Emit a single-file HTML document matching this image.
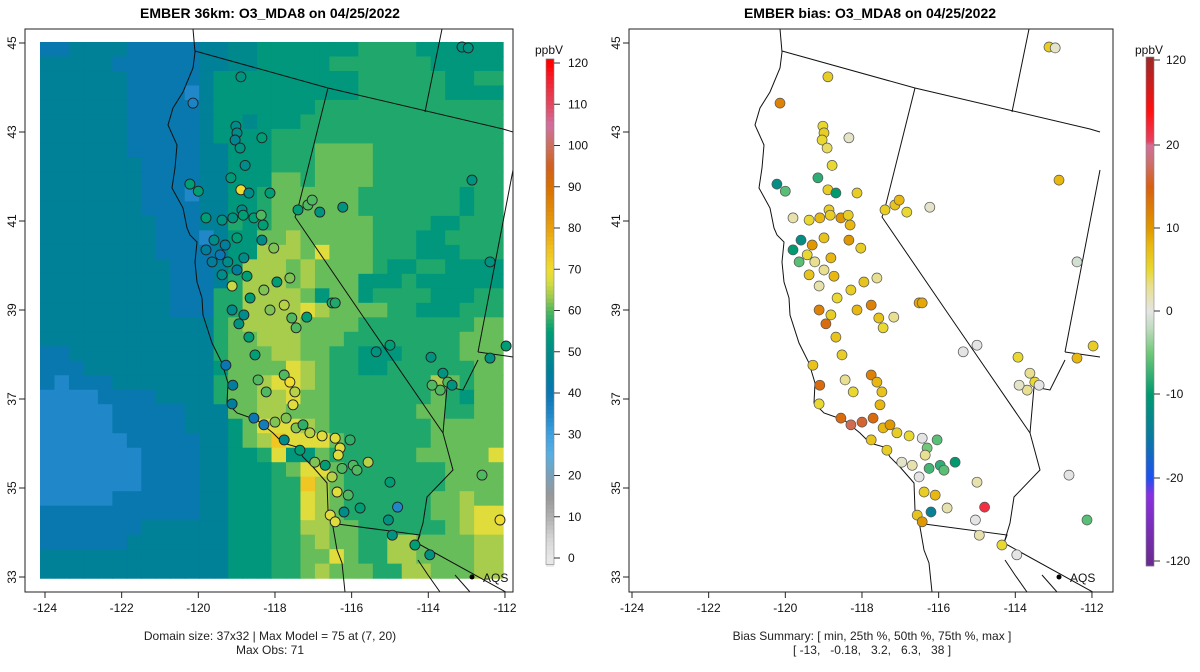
<!DOCTYPE html>
<html><head><meta charset="utf-8"><style>
html,body{margin:0;padding:0;background:#fff;}
svg{display:block;font-family:"Liberation Sans",Arial,sans-serif;}
</style></head><body>
<svg id="chart" width="1200" height="672" viewBox="0 0 1200 672" xmlns="http://www.w3.org/2000/svg">
<defs>
<clipPath id="clipL"><rect x="25" y="29" width="488" height="563"/></clipPath>
<clipPath id="clipR"><rect x="629" y="29" width="484" height="563"/></clipPath>
</defs>
<g id="root"></g>
</svg>
<script>
// ---------- data ----------
const xTicks = [-124,-122,-120,-118,-116,-114,-112];
const yTicks = [33,35,37,39,41,43,45];
const obsBarTicks = [0,10,20,30,40,50,60,70,80,90,100,110,120];
const biasBarTicks = [-120,-20,-10,0,10,20,120];
// model grid (32 cols x 37 rows), each char is a concentration level
const levelChars = ["A","B","C","D","E","F","G","H","I","J","K"];
const levelValues = [35,41,46,49,53,57,61,64,68,71,74];
const gridRows = [
"BBCCCCBBBBBCCDDEEEEEEEFFFFEEEEEE",
"CCCCCBBBBBBCCDDEEEEEFFFFFFFEEEEE",
"CCCCCCBBBBBCEEEEEEEEEEFFFFFFEEFF",
"CCCCCCBBBBACEEEEEEEEEEFFFFFFEEEE",
"CCCCCCBBBBBCEEEEEEEFFFFFFFFFFFFF",
"CCCCCCBBBBBCEEDEEEFFFFFFFFFFFFFF",
"CCCCCCBBBBBCEEEEFFFFFFFFFFFFFFFF",
"CCCCCCBBBBBCCEEEFFFGGGGFFFFFFFFF",
"CCCCCCCBBBBCCEEEFFFGGGGFFFFFFFFF",
"CCCCCCCBBBBCCEEEGGFGGGGFFFFFFFFF",
"CCCCCCCBBBACCEEFGGGGGGFFFFFFFEFF",
"CCCCCCCBBBBCCEEFGGGGGGFFFFFFFEFF",
"CCCCCCCCBBBCCFEFGGGGGGGFFFFEEFFF",
"CCCCCCCCBBBACEEGGHGGGGGFFFEEFFFF",
"CCCCCCCCBBBBCEEHHHGIGGGFFFEEEFFF",
"CCCCCCCCCBBBCEHHHGHGGGGFEEFFEEEE",
"CCCCCCCCCBBBCFHHHGHGGGEEEFEEEEEE",
"CCCCCCCCCBBBFFHHHHGEGGEFFFFEEEFF",
"CCCCCCCCCBBBFFHHHHIHGGGGFFEEEFFF",
"CCCCCCCCCCCCFGHHHHGGGGFFFFFFFFGG",
"CCCCCCCCCCCCFGGHHHGGGFFFFFFFFGGG",
"BBCCCCCCCCCCFGGGHHGGFFEEEFFFFGGG",
"BBBCCCCCCCCCEGGGGIHGFFEEFFFFFFGG",
"BABBBCCCCCCCFGGHIIHGFFFFFFFHGFGG",
"AAAABBBBCCCCFGGHHIGGFFFFFFFGFEGG",
"AAAAABBBBBCCCGGHHGGGFFFFFFGGFFGG",
"AAAAABBBBBCCCEGIIIHGFFFFFFFGGGGG",
"AAAAAABBBBBCCEGHKIIIGFFFFFFGGGGG",
"AAAAAAABBBBCCEEFIEEGFFFFFFGGGGGI",
"AAAAAAABBBBCCEEEFGIIGFFFFFFFGGGG",
"AAAAAAABBBBCCEEEFFKHGFFFFFFFGGGG",
"AAAAABBBBBBCCEEEFFIHGFFFFFFGGHGG",
"BBBBBBBBBBBCCEEEFFIHGFFFFFFGGHII",
"BBBBBBBCCCCCCEEEFFHHGGFFFFFFGHII",
"BBBBBBCCCCCCCEEEFFGHGGFFHHGGGGHH",
"CCCCCCCCCCCCCEEEFFGGIGFFHHGGGGHH",
"CCCCCCCCCCCCCEEEFFGHGGGFFHHGGGHH"
];
// monitoring sites
const siteLon = [-120.14,-118.89,-113.12,-112.96,-119.02,-118.99,-119.04,-118.91,-118.34,-118.78,-119.15,-118.89,-118.68,-118.86,-120.22,-120.0,-118.13,-117.14,-117.03,-116.83,-116.23,-117.4,-112.86,-119.8,-119.38,-119.1,-118.83,-118.55,-118.31,-118.36,-118.99,-119.3,-119.59,-119.8,-119.64,-119.43,-119.23,-118.81,-119.38,-118.99,-119.12,-118.34,-118.03,-118.73,-118.29,-118.65,-117.95,-117.61,-118.13,-117.76,-117.56,-117.45,-117.17,-116.51,-116.43,-118.81,-119.12,-118.94,-118.68,-118.52,-119.28,-119.1,-118.44,-118.23,-117.76,-117.61,-117.48,-117.53,-117.71,-119.12,-118.55,-118.29,-118.0,-117.45,-117.27,-117.09,-116.77,-116.43,-116.3,-116.35,-116.04,-117.76,-117.35,-116.96,-116.69,-116.25,-115.96,-115.57,-116.51,-116.38,-115.86,-116.09,-116.56,-116.43,-116.2,-115.78,-115.0,-114.8,-115.04,-114.94,-114.35,-113.96,-113.62,-113.49,-113.69,-113.38,-113.9,-112.39,-111.97,-112.39,-112.6,-112.13,-115.0,-115.36,-113.93];
const siteLat = [43.65,44.24,44.91,44.89,43.13,42.98,42.82,42.64,42.87,42.25,41.97,41.70,41.63,41.25,41.83,41.67,41.63,41.36,41.47,41.20,41.31,41.25,41.92,41.07,41.02,41.07,41.13,41.07,40.91,41.13,40.62,40.46,40.57,40.35,40.08,40.24,40.08,40.17,39.79,39.90,39.54,40.57,40.39,39.76,39.45,39.27,39.63,39.72,39.0,39.11,38.82,38.6,38.84,39.16,39.16,38.89,39.0,38.69,38.39,37.99,37.76,37.31,37.43,37.16,37.54,37.38,37.16,36.87,36.57,36.89,36.57,36.42,36.48,36.35,36.42,36.24,36.17,36.12,35.9,35.74,36.08,36.08,35.85,35.58,35.51,35.44,35.51,35.58,35.25,34.91,35.40,34.84,34.39,34.24,34.46,34.55,35.13,34.57,34.28,33.94,33.72,33.5,37.58,37.38,37.20,37.31,37.31,37.92,38.19,40.08,35.29,34.28,38.21,38.06,37.94];
const siteObs = [36,52,52,52,50,50,48,52,55,50,54,70,50,50,55,55,55,60,60,52,52,55,52,55,52,52,55,55,55,60,55,45,50,45,45,40,50,50,50,45,66,50,62,55,62,55,55,62,62,65,60,60,55,57,57,50,50,52,55,55,40,45,60,60,60,70,65,68,62,45,40,38,62,62,58,65,68,68,68,68,58,50,55,62,55,60,60,65,65,68,60,60,68,68,50,55,55,35,52,52,55,52,52,60,60,52,60,52,55,52,60,70,55,52,52];
const siteBias = [12,6,6,1,5,6,5,4,1,5,-8,6,-10,6,-12,-6,6,7,8,5,1,6,8,2,5,8,6,10,8,6,7,10,-12,-10,-6,5,3,8,7,3,2,10,6,8,6,5,7,3,8,12,7,5,3,9,9,6,12,14,7,6,7,14,3,5,12,8,7,8,14,5,14,17,16,8,10,6,5,0,-5,3,-6,7,6,1,2,-7,-8,-10,0,6,-6,8,7,10,-14,2,2,38,0,2,5,0,3,5,3,0,1,8,6,-1,0,-6,0,0,5];

// ---------- scales ----------
const X0 = 45, PX_LON = 38.33, Y0 = 43, PX_LAT = 44.5, DX_R = 587;
function xScale(lon){ return X0 + (lon + 124) * PX_LON; }
function yScale(lat){ return Y0 + (45 - lat) * PX_LAT; }
const GX0 = 40, GY0 = 42, CW = 14.47, CH = 14.49;
function gx(c){ return GX0 + c * CW; }
function gy(r){ return GY0 + r * CH; }

function hex(c){ return [parseInt(c.slice(1,3),16),parseInt(c.slice(3,5),16),parseInt(c.slice(5,7),16)]; }
function interp(stops, v){
  if (v <= stops[0][0]) return stops[0][1];
  for (let i=1;i<stops.length;i++){
    if (v <= stops[i][0]){
      const a=stops[i-1], b=stops[i], t=(v-a[0])/(b[0]-a[0]);
      const ca=hex(a[1]), cb=hex(b[1]);
      return "rgb("+ca.map((x,k)=>Math.round(x+(cb[k]-x)*t)).join(",")+")";
    }
  }
  return stops[stops.length-1][1];
}
const obsStops = [[0,"#e8e8e8"],[5,"#d4d4d4"],[10,"#b0b0b0"],[15,"#989898"],[20,"#7aa0b8"],[25,"#5ab0e0"],[30,"#40a0e0"],[35,"#2088c8"],[40,"#0a76b4"],[45,"#007e9c"],[50,"#008c88"],[55,"#009e74"],[60,"#50b860"],[63,"#98c850"],[67,"#d8dc40"],[70,"#f0dc30"],[75,"#f0c020"],[80,"#e8a010"],[90,"#d87000"],[95,"#d06020"],[100,"#cc7060"],[105,"#d070a0"],[110,"#e04860"],[115,"#f02838"],[120,"#ff0000"]];
const biasStops = [[-120,"#6a2c90"],[-40,"#8a30e0"],[-20,"#2050f0"],[-15,"#0a7aa0"],[-10,"#009a70"],[-5,"#70c878"],[-2,"#c0dcc0"],[0,"#e4e4e4"],[3,"#e8e090"],[5,"#e8d830"],[8,"#e8b810"],[10,"#e09800"],[15,"#d86010"],[18,"#cc7070"],[20,"#d07098"],[25,"#e84060"],[60,"#ff1010"],[120,"#a02828"]];
const obsColor = v => interp(obsStops, v);
const biasColor = v => interp(biasStops, v);

const NS="http://www.w3.org/2000/svg";
const root=document.getElementById("root");
function mk(tag, attrs, parent){ const e=document.createElementNS(NS,tag); for(const k in attrs) e.setAttribute(k,attrs[k]); (parent||root).appendChild(e); return e; }

// ---------- map outlines (pixel coords, left panel) ----------
const coast = [[193,29],[195,52],[193,68],[183,92],[173,108],[168,125],[177,145],[175,168],[172,188],[183,208],[187,228],[190,235],[197,242],[195,262],[197,282],[202,298],[203,315],[212,343],[222,363],[228,383],[227,403],[237,413],[257,420],[273,433],[283,443],[297,447],[303,457],[313,467],[327,483],[328,510],[333,527],[337,550],[342,563],[345,592]];
const borders = [
 [[195,51],[328,88],[503,129],[513,132]],
 [[442,29],[425,112]],
 [[328,88],[297,212],[295,217],[362,315],[443,433]],
 [[513,170],[478,352]],
 [[478,352],[513,357]],
 [[478,360],[463,390],[447,387],[443,433],[453,470],[427,497],[423,523],[417,543]],
 [[330,523],[420,535],[417,543],[513,596]],
 [[418,560],[428,575],[440,592]],
 [[455,575],[470,592]]
];
function drawOutlines(dx, g){
  const pts = coast.map(p=>(p[0]+dx)+","+p[1]).join(" ");
  const c = mk("polyline",{points:pts,fill:"none",stroke:"#111","stroke-width":"1"},g);
  
  
  borders.forEach(b=>{
    const l = mk("polyline",{points:b.map(p=>(p[0]+dx)+","+p[1]).join(" "),fill:"none",stroke:"#111","stroke-width":"1"},g);
    
    
  });
}

// ---------- left panel ----------
const gL = mk("g",{"clip-path":"url(#clipL)"});


gridRows.forEach((row,r)=>{
  for(let c=0;c<row.length;c++){
    const v = levelValues[levelChars.indexOf(row[c])];
    const cell = mk("rect",{x:gx(c).toFixed(2),y:gy(r).toFixed(2),width:(CW+0.6).toFixed(2),height:(CH+0.6).toFixed(2),fill:obsColor(v)},gL);
    
    
  }
});
drawOutlines(0,gL);
siteLon.forEach((lon,i)=>{
  const s = mk("circle",{cx:xScale(lon).toFixed(1),cy:yScale(siteLat[i]).toFixed(1),r:5,fill:obsColor(siteObs[i]),stroke:"#222","stroke-width":"0.9"},gL);
  
  
});

// ---------- right panel ----------
const gR = mk("g",{"clip-path":"url(#clipR)"});


drawOutlines(DX_R,gR);
siteLon.forEach((lon,i)=>{
  const s = mk("circle",{cx:(xScale(lon)+DX_R).toFixed(1),cy:yScale(siteLat[i]).toFixed(1),r:5,fill:biasColor(siteBias[i]),stroke:"#555","stroke-width":"0.7"},gR);
  
  
});

// ---------- axes ----------
function axes(dx, boxX, boxW, name){
  const box = mk("rect",{x:boxX,y:29,width:boxW,height:563,fill:"none",stroke:"#222","stroke-width":"1"});
  
  
  xTicks.forEach(t=>{
    const x = xScale(t)+dx;
    const tk = mk("line",{x1:x,y1:592,x2:x,y2:598,stroke:"#222"});
    
    
    const tl = mk("text",{x:x,y:612,"font-size":"12","text-anchor":"middle",fill:"#111"});
    tl.textContent = t;
    
    
  });
  yTicks.forEach(t=>{
    const y = yScale(t);
    const tk = mk("line",{x1:boxX,y1:y,x2:boxX-6,y2:y,stroke:"#222"});
    
    
    const tl = mk("text",{x:0,y:0,"font-size":"12","text-anchor":"middle",fill:"#111",transform:"translate("+(boxX-9)+","+y+") rotate(-90)"});
    tl.textContent = t;
    
    
  });
  const aq = mk("circle",{cx:472+dx,cy:577,r:2.5,fill:"#000"});
  
  
  const at = mk("text",{x:483+dx,y:582,"font-size":"12",fill:"#111"});
  at.textContent="AQS";
  
  
}
axes(0,25,488,'model-map');
axes(DX_R,629,484,'bias-map');

// ---------- colorbars ----------
function obsBarY(v){ return 558 - v*4.125; }
const obsBar = mk("g",{});


for(let v=-2; v<121; v+=1){
  mk("rect",{x:546,y:obsBarY(v+1).toFixed(2),width:8,height:4.6,fill:obsColor(v+0.5)},obsBar);
}
mk("rect",{x:546,y:obsBarY(121),width:8,height:obsBarY(-1.6)-obsBarY(121),fill:"none",stroke:"#888","stroke-width":"0.6"},obsBar);
obsBarTicks.forEach(t=>{
  const y=obsBarY(t);
  mk("line",{x1:554,y1:y,x2:560,y2:y,stroke:"#333"},obsBar);
  const tl = mk("text",{x:568,y:y+4,"font-size":"12",fill:"#111"},obsBar);
  tl.textContent=t;
  
  
});
const u1 = mk("text",{x:549,y:54,"font-size":"12","text-anchor":"middle",fill:"#111"});
u1.textContent="ppbV";



const biasKnots = [[-120,561],[-20,478],[-10,394],[0,311],[10,228],[20,145],[120,60]];
function biasBarY(v){
  for(let i=1;i<biasKnots.length;i++){
    if(v<=biasKnots[i][0]){ const a=biasKnots[i-1],b=biasKnots[i]; return a[1]+(b[1]-a[1])*(v-a[0])/(b[0]-a[0]); }
  }
  return 60;
}
const biasBar = mk("g",{});


for(let y=57; y<566; y+=1){
  let v=0;
  if(y>561) v=-120; else if(y<60) v=120; else {
    for(let i=1;i<biasKnots.length;i++){ const a=biasKnots[i-1],b=biasKnots[i]; if(y<=a[1] && y>=b[1]){ v=a[0]+(b[0]-a[0])*(a[1]-y)/(a[1]-b[1]); break; } }
  }
  mk("rect",{x:1146,y:y,width:8,height:1.3,fill:biasColor(v)},biasBar);
}
mk("rect",{x:1146,y:57,width:8,height:509,fill:"none",stroke:"#888","stroke-width":"0.6"},biasBar);
biasBarTicks.forEach(t=>{
  const y=biasBarY(t);
  mk("line",{x1:1154,y1:y,x2:1160,y2:y,stroke:"#333"},biasBar);
  const tl = mk("text",{x:1166,y:y+4,"font-size":"12",fill:"#111"},biasBar);
  tl.textContent=t;
  
  
});
const u2 = mk("text",{x:1149,y:54,"font-size":"12","text-anchor":"middle",fill:"#111"});
u2.textContent="ppbV";


</script>
<div style="position:absolute;left:0;top:0;width:1200px;height:672px;pointer-events:none;font-family:'Liberation Sans',Arial,sans-serif;">
  <div style="position:absolute;left:20px;width:500px;top:5px;text-align:center;font-weight:bold;font-size:14px;color:#000;">EMBER 36km: O3_MDA8 on 04/25/2022</div>
  <div style="position:absolute;left:620px;width:500px;top:5px;text-align:center;font-weight:bold;font-size:14px;color:#000;">EMBER bias: O3_MDA8 on 04/25/2022</div>
  <div style="position:absolute;left:20px;width:500px;top:629px;text-align:center;font-size:12px;line-height:14px;color:#222;">Domain size: 37x32 | Max Model = 75 at (7, 20)<br>Max Obs: 71</div>
  <div style="position:absolute;left:622px;width:500px;top:629px;text-align:center;font-size:12px;line-height:14px;color:#222;white-space:pre;">Bias Summary: [ min, 25th %, 50th %, 75th %, max ]
[ -13,   -0.18,   3.2,   6.3,   38 ]</div>
</div>
</body></html>
